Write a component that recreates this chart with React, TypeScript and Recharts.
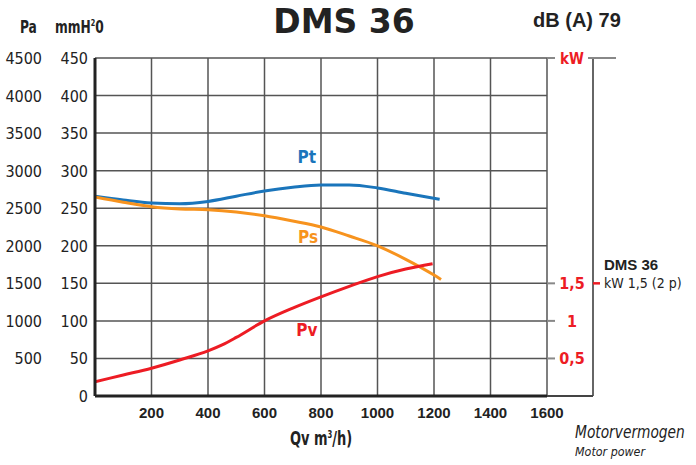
import React from 'react';
import { ComposedChart, Line, XAxis, YAxis, CartesianGrid, ReferenceDot } from 'recharts';

// Qv m3/h
const flowTicks = [200, 400, 600, 800, 1000, 1200, 1400, 1600];
const mmTicks = [0, 50, 100, 150, 200, 250, 300, 350, 400, 450];
const kwTicks = [0.5, 1, 1.5, 4.5];
const motorKw = [0, 1.5];

const ptFlow = [0, 100, 200, 300, 400, 500, 600, 700, 800, 900, 1000, 1100, 1220];
const ptMm = [266, 261, 257, 256, 259, 266, 273, 278, 281, 281, 277, 270, 262];

const psFlow = [0, 100, 200, 300, 400, 500, 600, 700, 800, 900, 1000, 1100, 1200, 1225];
const psMm = [265, 258, 252, 249, 248, 245, 240, 233, 225, 213, 200, 182, 161, 155];

const pvFlow = [0, 100, 200, 300, 400, 450, 500, 600, 700, 800, 900, 1000, 1100, 1195];
const pvMm = [19, 28, 37, 48, 60, 68, 78, 100, 117, 132, 146, 159, 169, 176];

const curveNames = ['Pt', 'Ps', 'Pv'];
const curveColors = ['#1a75bb', '#f7931e', '#ed1c24'];
const labelFlow = [750, 754, 750];
const labelMm = [318, 212, 88];

const toRows = (xs: number[], ys: number[]) => xs.map((q, i) => ({ q, v: ys[i] }));
const series = [toRows(ptFlow, ptMm), toRows(psFlow, psMm), toRows(pvFlow, pvMm)];
// invisible helpers so the kW axes get a domain of their own
const kwRows = kwTicks.map((v) => ({ q: 0, v }));
const motorRows = motorKw.map((v) => ({ q: 0, v }));

const narrow = "'Liberation Sans Narrow', 'DejaVu Sans Condensed', 'Roboto Condensed', sans-serif";
const plain = "'Liberation Sans', Arial, sans-serif";
const squeeze: React.CSSProperties = { display: 'inline-block', transform: 'scaleX(0.8)', transformOrigin: 'left' };

const MmTick = (props: any) => {
  const { y, payload } = props;
  const v = payload.value;
  return (
    <g fontFamily={narrow} fontSize={16} fill="#222">
      <text x={88} y={y + 6} textAnchor="end">{v}</text>
      {v > 0 && <text x={42} y={y + 6} textAnchor="end">{v * 10}</text>}
    </g>
  );
};

const FlowTick = (props: any) => {
  const { x, y, payload } = props;
  return (
    <text x={x} y={y + 14} textAnchor="middle" fontFamily={plain} fontWeight="bold" fontSize={15} fill="#222">
      {payload.value}
    </text>
  );
};

const KwTick = (props: any) => {
  const { y, payload } = props;
  const v = payload.value;
  if (v === 4.5) {
    return (
      <g>
        <text x={572} y={y + 6} textAnchor="middle" fontFamily={narrow} fontWeight="bold" fontSize={15} fill="#ed1c24">kW</text>
        <line x1={588} x2={616} y1={y} y2={y} stroke="#888" strokeWidth={2} />
      </g>
    );
  }
  return (
    <text x={572} y={y + 6} textAnchor="middle" fontFamily={narrow} fontWeight="bold" fontSize={16} fill="#ed1c24">
      {String(v).replace('.', ',')}
    </text>
  );
};

const MotorTick = (props: any) => {
  const { y, payload } = props;
  if (payload.value === 0) {
    return <line x1={547} x2={593} y1={y} y2={y} stroke="#444" strokeWidth={2} />;
  }
  return (
    <g>
      <line x1={593} x2={600} y1={y} y2={y} stroke="#ed1c24" strokeWidth={2.5} />
      <text x={604} y={y - 13} fontFamily={plain} fontWeight="bold" fontSize={15} fill="#222">DMS 36</text>
      <text x={604} y={y + 5} fontFamily={narrow} fontSize={14} fill="#222">kW 1,5 (2 p)</text>
    </g>
  );
};

export default function App() {
  return (
    <div style={{ position: 'absolute', left: 0, top: 0, width: 696, height: 465, background: '#fff' }}>
      <ComposedChart width={696} height={465} margin={{ top: 58, right: 0, bottom: 0, left: 0 }}>
        <CartesianGrid yAxisId="mm" stroke="#555" strokeWidth={1.5} />
        <XAxis
          dataKey="q"
          type="number"
          domain={[0, 1600]}
          ticks={flowTicks}
          height={69}
          axisLine={{ stroke: '#222', strokeWidth: 3 }}
          tickLine={false}
          tick={<FlowTick />}
          allowDataOverflow
        />
        <YAxis
          yAxisId="mm"
          type="number"
          domain={[0, 450]}
          ticks={mmTicks}
          width={95}
          axisLine={{ stroke: '#222', strokeWidth: 3 }}
          tickLine={false}
          tick={<MmTick />}
        />
        <YAxis
          yAxisId="kw"
          orientation="right"
          type="number"
          domain={[0, 4.5]}
          ticks={kwTicks}
          width={46}
          axisLine={false}
          tickLine={{ stroke: '#888', strokeWidth: 2 }}
          tickSize={8}
          tick={<KwTick />}
          allowDataOverflow
        />
        <YAxis
          yAxisId="motor"
          orientation="right"
          type="number"
          domain={[0, 4.5]}
          ticks={motorKw}
          width={103}
          axisLine={{ stroke: '#333', strokeWidth: 1.5 }}
          tickLine={false}
          tick={<MotorTick />}
          allowDataOverflow
        />
        <Line yAxisId="kw" data={kwRows} dataKey="v" stroke="none" dot={false} legendType="none" isAnimationActive={false} />
        <Line yAxisId="motor" data={motorRows} dataKey="v" stroke="none" dot={false} legendType="none" isAnimationActive={false} />
        {series.map((rows, i) => (
          <Line
            key={curveNames[i]}
            yAxisId="mm"
            data={rows}
            dataKey="v"
            type="monotone"
            stroke={curveColors[i]}
            strokeWidth={3}
            dot={false}
            isAnimationActive={false}
          />
        ))}
        {curveNames.map((n, i) => (
          <ReferenceDot
            key={n}
            yAxisId="mm"
            x={labelFlow[i]}
            y={labelMm[i]}
            r={0}
            stroke="none"
            label={{ value: n, fill: curveColors[i], fontWeight: 'bold', fontSize: 17, fontFamily: narrow, position: 'center' }}
          />
        ))}
      </ComposedChart>
      <div style={{ position: 'absolute', left: 20, top: 17, fontFamily: narrow, fontWeight: 'bold', fontSize: 17, color: '#222' }}>
        <span style={squeeze}>Pa</span>
      </div>
      <div style={{ position: 'absolute', left: 55, top: 17, fontFamily: narrow, fontWeight: 'bold', fontSize: 17, color: '#222' }}>
        <span style={squeeze}>mmH<sup style={{ fontSize: 9 }}>2</sup>0</span>
      </div>
      <div style={{ position: 'absolute', left: 200, width: 288, top: 0, textAlign: 'center', fontFamily: "'DejaVu Sans', sans-serif", fontWeight: 'bold', fontSize: 33, color: '#222', lineHeight: '44px' }}>DMS 36</div>
      <div style={{ position: 'absolute', left: 533, top: 9, fontFamily: plain, fontWeight: 'bold', fontSize: 20, color: '#222' }}>dB (A) 79</div>
      <div style={{ position: 'absolute', left: 290, top: 427, fontFamily: narrow, fontWeight: 'bold', fontSize: 19, color: '#222', whiteSpace: 'nowrap' }}>
        <span style={{ ...squeeze, transform: 'scaleX(0.76)' }}>Qv m<sup style={{ fontSize: 10 }}>3</sup>/h)</span>
      </div>
      <div style={{ position: 'absolute', left: 575, top: 422, fontFamily: narrow, fontStyle: 'italic', fontSize: 17, color: '#222', whiteSpace: 'nowrap' }}>
        <span style={{ ...squeeze, transform: 'scaleX(0.9)' }}>Motorvermogen</span>
      </div>
      <div style={{ position: 'absolute', left: 575, top: 444, fontFamily: narrow, fontStyle: 'italic', fontSize: 13, color: '#222', whiteSpace: 'nowrap' }}>
        <span style={{ ...squeeze, transform: 'scaleX(0.95)' }}>Motor power</span>
      </div>
    </div>
  );
}
